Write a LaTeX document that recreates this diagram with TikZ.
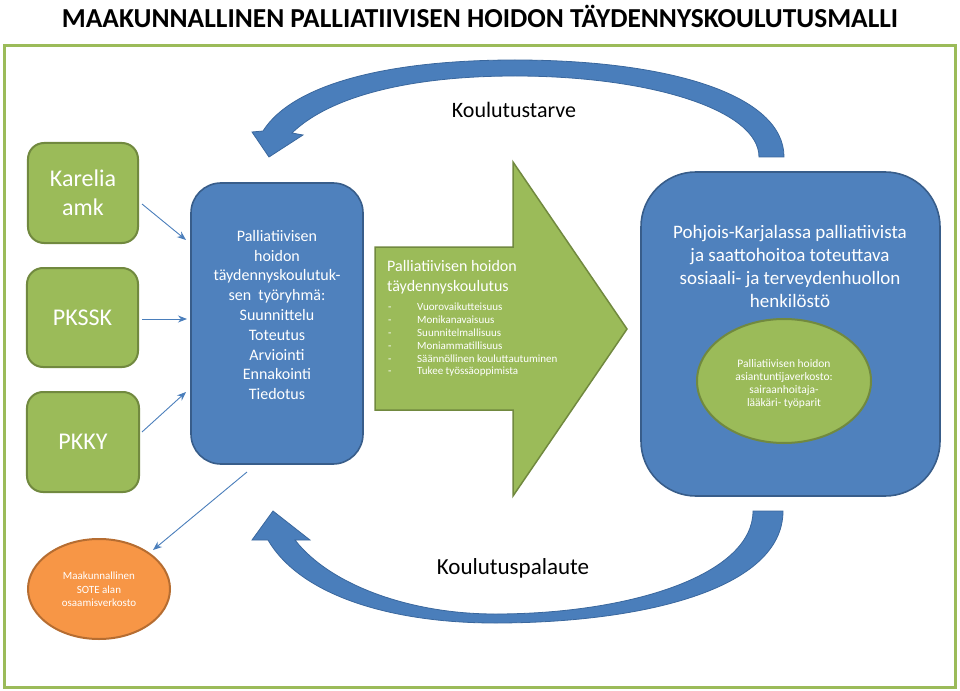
\documentclass[tikz,border=0pt]{standalone}
\usepackage{fontspec}
\setmainfont{Carlito}
\usetikzlibrary{arrows.meta,shapes.geometric}
\definecolor{gfill}{HTML}{9BBB59}
\definecolor{gborder}{HTML}{71893F}
\definecolor{bfill}{HTML}{4F81BD}
\definecolor{bborder}{HTML}{385D8A}
\definecolor{ofill}{HTML}{F79646}
\definecolor{oborder}{HTML}{B66D31}
\definecolor{arrowblue}{HTML}{4A7EBB}
\definecolor{arrowdark}{HTML}{3A679D}
\newcommand\myfs[2]{\fontsize{#1bp}{#2bp}\selectfont}
\begin{document}
\begin{tikzpicture}[x=1bp,y=-1bp,
  greenbox/.style={draw=gborder,fill=gfill,line width=2bp,rounded corners=16bp,text=white,align=center,font=\myfs{24}{29}},
  bluebox/.style={draw=bborder,fill=bfill,line width=1.6bp,text=white,align=center},
  thinarrow/.style={draw=arrowblue,line width=0.9bp,-{Stealth[length=9bp,width=7bp]}},
  bigcurve/.style={fill=arrowblue,draw=arrowdark,line width=0.8bp},
  lbl/.style={inner sep=0pt}]
\useasboundingbox (0,0) rectangle (960,691);
% title
\node[lbl,font=\bfseries\myfs{27.4}{31}] (title) at (480,16) {MAAKUNNALLINEN PALLIATIIVISEN HOIDON TÄYDENNYSKOULUTUSMALLI};
% frame
\draw[gfill,line width=3bp] (4,46) rectangle (955,687);
% top curved arrow
\path[bigcurve] (784,157) .. controls (784,95) and (670,60) .. (515,60)
  .. controls (385,60) and (292,85) .. (263,131) -- (252,132) -- (269,157) -- (303,135) -- (292,133)
  .. controls (328,98) and (405,76) .. (515,76)
  .. controls (650,76) and (759,110) .. (759,157) -- cycle;
\node[lbl,font=\myfs{22}{26}] (need) at (514,110) {Koulutustarve};
% bottom curved arrow
\path[bigcurve] (783,511) .. controls (783,590) and (640,623) .. (495,623)
  .. controls (390,623) and (300,595) .. (268,540) -- (252,540) -- (273,511) -- (310,540) -- (295,540)
  .. controls (330,585) and (410,614) .. (495,614)
  .. controls (630,614) and (753,575) .. (753,511) -- cycle;
\node[lbl,font=\myfs{23}{27}] (feedback) at (513,568) {Koulutuspalaute};
% left boxes
\node[greenbox,minimum width=110bp,minimum height=100bp] (karelia) at (83,193) {Karelia\\amk};
\node[greenbox,minimum width=111bp,minimum height=99bp] (pkssk) at (82.5,317.5) {PKSSK};
\node[greenbox,minimum width=112bp,minimum height=100bp] (pkky) at (83,442) {PKKY};
% work group box
\node[bluebox,rounded corners=30bp,minimum width=172bp,minimum height=281bp] (group) at (277,323.5) {};
\node[lbl,text=white,align=center,font=\myfs{16}{19.8}] (grouptext) at (277,315)
  {Palliatiivisen\\hoidon\\täydennyskoulutuk-\\sen~ työryhmä:\\Suunnittelu\\Toteutus\\Arviointi\\Ennakointi\\Tiedotus};
% connectors into group
\coordinate (k1) at (142,204); \coordinate (k2) at (186,240);
\coordinate (p1) at (142,319); \coordinate (p2) at (187,319);
\coordinate (y1) at (142,432); \coordinate (y2) at (186,392);
\coordinate (g1) at (247,472); \coordinate (o2) at (153,550);
\draw[thinarrow] (k1) -- (k2);
\draw[thinarrow] (p1) -- (p2);
\draw[thinarrow] (y1) -- (y2);
\draw[thinarrow] (g1) -- (o2);
% orange network
\node[ellipse,draw=oborder,fill=ofill,line width=2bp,minimum width=142bp,minimum height=100bp,inner sep=0pt] (sote) at (99,589) {};
\node[lbl,text=white,align=center,font=\myfs{11}{13.5}] (sotetext) at (99,589.5) {Maakunnallinen\\SOTE alan\\osaamisverkosto};
% big green arrow
\path[fill=gfill,draw=gborder,line width=1.5bp] (375,247) -- (513,247) -- (513,162) -- (627,329) -- (513,496) -- (513,410) -- (375,410) -- cycle;
\node[lbl,text=white,align=left,anchor=north west,font=\myfs{16}{20}] (edutitle) at (387,260) {Palliatiivisen hoidon\\täydennyskoulutus};
\node[lbl,text=white,align=left,anchor=north west,font=\myfs{11}{12.8}] (edulist) at (388,303)
  {\makebox[29bp][l]{-}Vuorovaikutteisuus\\
   \makebox[29bp][l]{-}Monikanavaisuus\\
   \makebox[29bp][l]{-}Suunnitelmallisuus\\
   \makebox[29bp][l]{-}Moniammatillisuus\\
   \makebox[29bp][l]{-}Säännöllinen kouluttautuminen\\
   \makebox[29bp][l]{-}Tukee työssäoppimista};
% right staff box
\node[bluebox,rounded corners=55bp,minimum width=299bp,minimum height=324bp] (staff) at (790.5,334) {};
\node[lbl,text=white,align=center,font=\myfs{19}{23}] (stafftext) at (790,266)
  {Pohjois-Karjalassa palliatiivista\\ja saattohoitoa toteuttava\\sosiaali- ja terveydenhuollon\\henkilöstö};
\node[ellipse,draw=gborder,fill=gfill,line width=2bp,minimum width=174bp,minimum height=124bp,inner sep=0pt] (experts) at (784,381) {};
\node[lbl,text=white,align=center,font=\myfs{11.5}{13}] (expertstext) at (784,384)
  {Palliatiivisen hoidon\\asiantuntijaverkosto:\\sairaanhoitaja-\\lääkäri- työparit};
\end{tikzpicture}
\end{document}
